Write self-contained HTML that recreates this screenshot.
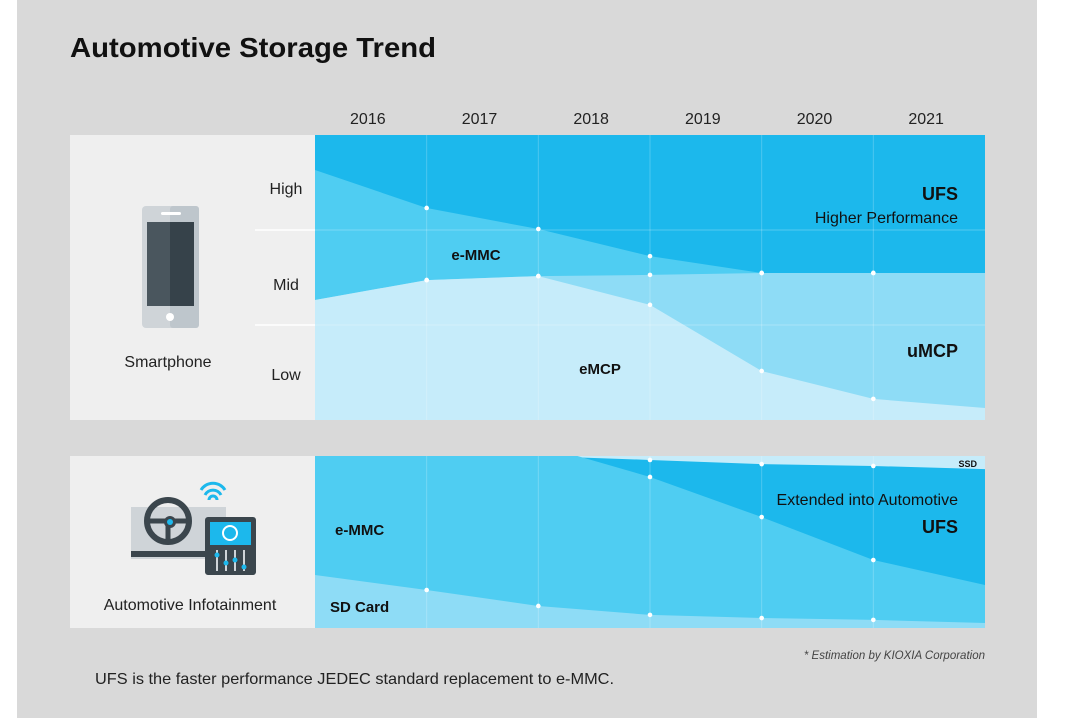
<!DOCTYPE html>
<html><head><meta charset="utf-8"><style>
html,body{margin:0;padding:0;background:#fff;}
body{width:1080px;height:718px;position:relative;overflow:hidden;font-family:"Liberation Sans",sans-serif;}
svg text{font-family:"Liberation Sans",sans-serif;}
</style></head><body>
<svg id="chart" width="1080" height="718" viewBox="0 0 1080 718" xmlns="http://www.w3.org/2000/svg">
<rect x="17" y="0" width="1020" height="718" fill="#d9d9d9"/>
<text x="70" y="57" font-size="28" font-weight="bold" fill="#111" textLength="366" lengthAdjust="spacingAndGlyphs">Automotive Storage Trend</text>
<g id="years"></g>
<rect x="70" y="135" width="245" height="285" fill="#efefef"/>
<rect x="70" y="456" width="245" height="172" fill="#efefef"/>
<g id="top"></g>
<g id="bot"></g>
<g font-size="16" fill="#222" text-anchor="middle">
<line x1="255" y1="230" x2="315" y2="230" stroke="#fff" stroke-width="1.5"/>
<line x1="255" y1="325" x2="315" y2="325" stroke="#fff" stroke-width="1.5"/>
<text x="286" y="194">High</text>
<text x="286" y="290">Mid</text>
<text x="286" y="380">Low</text>
</g>
<g>
<rect x="142" y="206" width="57" height="122" rx="4" fill="#cfd4d8"/>
<rect x="170" y="206" width="29" height="122" rx="3" fill="#bec6cc"/>
<rect x="147" y="222" width="47" height="84" fill="#4a565e"/>
<rect x="170" y="222" width="24" height="84" fill="#36424a"/>
<rect x="161" y="212" width="20" height="3" rx="1.5" fill="#fff"/>
<circle cx="170" cy="317" r="4" fill="#fff"/>
</g>
<text x="168" y="367" font-size="16" fill="#222" text-anchor="middle">Smartphone</text>
<g>
<rect x="131" y="507" width="95" height="52" fill="#cfd4d8"/>
<rect x="131" y="551" width="95" height="6" fill="#3b464d"/>
<circle cx="168" cy="521" r="21" fill="none" stroke="#3b464d" stroke-width="6"/>
<line x1="150" y1="521" x2="186" y2="521" stroke="#3b464d" stroke-width="5"/>
<line x1="168" y1="521" x2="168" y2="541" stroke="#3b464d" stroke-width="5"/>
<circle cx="170" cy="522" r="6" fill="#3b464d"/><circle cx="170" cy="522" r="3" fill="#1cb8ec"/>
<path d="M201 490 a14 14 0 0 1 24 0 M205 495 a9 9 0 0 1 16 0 M209 500 a4 4 0 0 1 8 0" fill="none" stroke="#1cb8ec" stroke-width="3"/>
<rect x="205" y="517" width="51" height="58" rx="3" fill="#3b464d"/>
<rect x="210" y="522" width="41" height="23" fill="#1cb8ec"/>
<circle cx="230" cy="533" r="7" fill="none" stroke="#fff" stroke-width="2"/>
<g stroke="#cfd4d8" stroke-width="2"><line x1="217" y1="550" x2="217" y2="571"/><line x1="226" y1="550" x2="226" y2="571"/><line x1="235" y1="550" x2="235" y2="571"/><line x1="244" y1="550" x2="244" y2="571"/></g>
<g fill="#1cb8ec"><circle cx="217" cy="555" r="2.5"/><circle cx="226" cy="563" r="2.5"/><circle cx="235" cy="560" r="2.5"/><circle cx="244" cy="567" r="2.5"/></g>
</g>
<text x="190" y="610" font-size="16" fill="#222" text-anchor="middle">Automotive Infotainment</text>
<text x="985" y="659" font-size="11.5" font-style="italic" fill="#444" text-anchor="end">* Estimation by KIOXIA Corporation</text>
<text x="95" y="684" font-size="16" fill="#222" textLength="519" lengthAdjust="spacingAndGlyphs">UFS is the faster performance JEDEC standard replacement to e-MMC.</text>
</svg>
<script>
const years = ["2016","2017","2018","2019","2020","2021"];
// boundaries as % from top of panel, at 7 stops (left edge, 5 year borders, right edge)
const phoneUfsBottom = [12.3, 25.6, 33.0, 42.5, 48.4, 48.4, 48.4];
const phoneEmmcBottom = [57.9, 50.9, 49.5, 49.1, 48.4, 48.4, 48.4];
const phoneEmcpTop = [57.9, 50.9, 49.5, 59.6, 82.8, 92.6, 95.8];
const autoSsdBottom = [0, 0, 0, 2.3, 4.7, 5.8, 7.6];
const autoUfsBottom = [0, 0, 0, 12.2, 35.5, 60.5, 75.0];
const autoEmmcBottom = [69.2, 77.9, 87.2, 92.4, 94.2, 95.3, 97.1];
const autoUfsStart = [2.35]; // UFS band emerges ~1/3 into 2018 column (in column units)

const NS = "http://www.w3.org/2000/svg";
const X0 = 315, X1 = 985, colW = (X1 - X0) / years.length;
function xAt(i){ return X0 + i * colW; }
function mk(tag, attrs, parent){ const e = document.createElementNS(NS, tag); for (const k in attrs) e.setAttribute(k, attrs[k]); parent.appendChild(e); return e; }

const yg = document.getElementById('years');
years.forEach((y, i) => {
  const t = mk('text', {x: X0 + colW * (i + 0.5) - 3, y: 124, 'font-size': 16, fill: '#222', 'text-anchor': 'middle'}, yg);
  
  
  t.textContent = y;
});

function panel(gid, top, h, layers, dotsSets, hlines){
  const g = document.getElementById(gid);
  const yOf = v => top + v / 100 * h;
  const n = 7;
  layers.forEach(L => {
    let pts = [];
    for (let i = 0; i < n; i++) pts.push([xAt(i), L.upper ? yOf(L.upper[i]) : top]);
    if (L.start) {
      const k = Math.floor(L.start[0]);
      pts = pts.filter((p, i) => i > k);
      pts.unshift([xAt(L.start[0]), top]);
      pts.unshift([X0, top]);
    }
    let d = '';
    pts.forEach((p, i) => d += (i ? 'L' : 'M') + p[0] + ' ' + p[1]);
    d += 'L' + X1 + ' ' + (top + h) + 'L' + X0 + ' ' + (top + h);
    const p = mk('path', {d: d + 'Z', fill: L.color}, g);
    
    
  });
  hlines.forEach(v => mk('line', {x1: X0, x2: X1, y1: v, y2: v, stroke: 'rgba(255,255,255,0.25)', 'stroke-width': 1}, g));
  for (let i = 1; i < years.length; i++) {
    const l = mk('line', {x1: xAt(i), x2: xAt(i), y1: top, y2: top + h, stroke: 'rgba(255,255,255,0.22)', 'stroke-width': 1}, g);
    
    
  }
  dotsSets.forEach(arr => {
    for (let i = 1; i < years.length; i++) {
      if (arr[i] <= 0.5) continue;
      const c = mk('circle', {cx: xAt(i), cy: yOf(arr[i]), r: 2.3, fill: '#fff'}, g);
      
      
    }
  });
}
panel('top', 135, 285, [
  {name: 'ufs-area', color: '#1cb8ec', upper: null},
  {name: 'emmc-area', color: '#4fcdf2', upper: phoneUfsBottom},
  {name: 'umcp-area', color: '#8edcf6', upper: phoneEmmcBottom},
  {name: 'emcp-area', color: '#c6ecfa', upper: phoneEmcpTop}
], [phoneUfsBottom, phoneEmmcBottom, phoneEmcpTop], [230, 325]);
panel('bot', 456, 172, [
  {name: 'ssd-area', color: '#c6ecfa', upper: null},
  {name: 'ufs-area', color: '#1cb8ec', upper: autoSsdBottom},
  {name: 'emmc-area', color: '#4fcdf2', upper: autoUfsBottom, start: autoUfsStart},
  {name: 'sdcard-area', color: '#8edcf6', upper: autoEmmcBottom}
], [autoSsdBottom, autoUfsBottom, autoEmmcBottom], []);

const labels = [
  ['top','UFS',958,200,18,'bold','end','ufs-label'],
  ['top','Higher Performance',958,223,16,'normal','end','ufs-sub-label'],
  ['top','e-MMC',476,260,15,'bold','middle','emmc-label'],
  ['top','eMCP',600,374,15,'bold','middle','emcp-label'],
  ['top','uMCP',958,357,18,'bold','end','umcp-label'],
  ['bot','SSD',977,467,9,'bold','end','ssd-label'],
  ['bot','Extended into Automotive',958,505,16,'normal','end','ufs-auto-sub-label'],
  ['bot','UFS',958,533,18,'bold','end','ufs-auto-label'],
  ['bot','e-MMC',335,535,15,'bold','start','emmc-auto-label'],
  ['bot','SD Card',330,612,15,'bold','start','sdcard-label']
];
labels.forEach(a => {
  const t = mk('text', {x: a[2], y: a[3], 'font-size': a[4], 'font-weight': a[5], 'text-anchor': a[6], fill: '#111'}, document.getElementById(a[0]));
  
  
  t.textContent = a[1];
});
</script>
</body></html>
